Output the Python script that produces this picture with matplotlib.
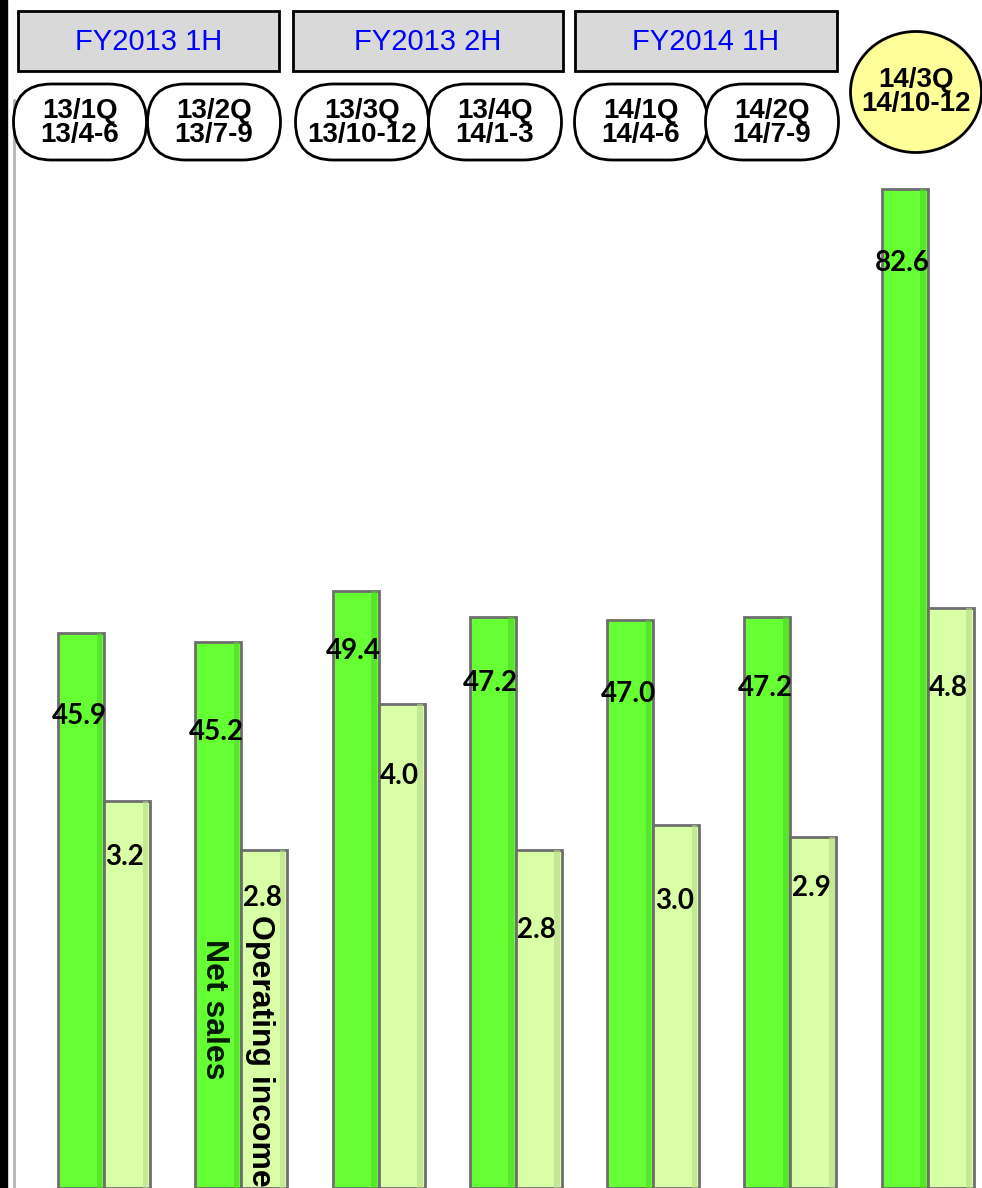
import numpy as np
import matplotlib.pyplot as plt
from matplotlib.patches import Rectangle, FancyBboxPatch, Ellipse

# data
half_labels = ['FY2013 1H', 'FY2013 2H', 'FY2014 1H']
quarter_labels = ['13/1Q\n13/4-6', '13/2Q\n13/7-9', '13/3Q\n13/10-12', '13/4Q\n14/1-3',
                  '14/1Q\n14/4-6', '14/2Q\n14/7-9', '14/3Q\n14/10-12']
net_sales = [45.9, 45.2, 49.4, 47.2, 47.0, 47.2, 82.6]
operating_income = [3.2, 2.8, 4.0, 2.8, 3.0, 2.9, 4.8]

# label drop below bar top (pixels), layout only
net_drop = [83, 90, 60, 66, 74, 71, 74]
oi_drop = [56, 48, 72, 80, 76, 51, 80]

W, H = 982, 1188
fig = plt.figure(figsize=(W / 100, H / 100), dpi=100)

NET_COLOR = '#66ff33'
OI_COLOR = '#d9ffa6'
EDGE = '#6e6e6e'
narrow = ['Liberation Sans Narrow', 'Liberation Sans', 'DejaVu Sans']

ax = fig.add_axes([14 / W, 0, (W - 14) / W, (H - 100) / H])
ax2 = ax.twinx()
x = np.arange(len(net_sales))
w = 0.335

ax.bar(x - w / 2, net_sales, w, color=NET_COLOR, edgecolor=EDGE, linewidth=2, zorder=2)
ax2.bar(x + w / 2, operating_income, w, color=OI_COLOR, edgecolor=EDGE, linewidth=2, zorder=2)
# darker right-hand shading to hint at the bevel
ax.bar(x - w / 2 + w * 0.4, net_sales, w * 0.12, color='#4fd628', linewidth=0, zorder=3, alpha=0.6)
ax2.bar(x + w / 2 + w * 0.4, operating_income, w * 0.12, color='#b6d98a', linewidth=0, zorder=3, alpha=0.6)

ax.set_xlim(-0.655, 6.395)
ax.set_ylim(0, 90)
ax2.set_ylim(0, 9)

for a in (ax, ax2):
    a.set_xticks([])
    a.set_yticks([])
    for s in a.spines.values():
        s.set_visible(False)
ax.spines['left'].set_visible(True)
ax.spines['left'].set_color('#b4b4b4')
ax.spines['left'].set_linewidth(2)
ax.patch.set_alpha(0)

for i, v in enumerate(net_sales):
    ax.annotate(f'{v:.1f}', (x[i] - w / 2, v), xytext=(-2, -net_drop[i]),
                textcoords='offset pixels', ha='center', va='center',
                fontsize=20, fontweight='bold', family='Lato', color='black', zorder=5)
for i, v in enumerate(operating_income):
    ax2.annotate(f'{v:.1f}', (x[i] + w / 2, v), xytext=(-2, -oi_drop[i]),
                 textcoords='offset pixels', ha='center', va='center',
                 fontsize=20, fontweight='bold', family='Lato', color='black', zorder=5)

# series names written inside the second group's bars
ax.text(x[1] - w / 2 - 0.03, 14.8, 'Net sales', rotation=-90, ha='center', va='center',
        fontsize=23, fontweight='bold', family='Liberation Sans', color='#001a00', zorder=5)
ax2.text(x[1] + w / 2 - 0.03, 2.26, 'Operating income', rotation=-90, ha='center', va='top',
         fontsize=23, fontweight='bold', family='Liberation Sans', color='black', zorder=5)

# overlay in pixel coordinates for the header boxes
ov = fig.add_axes([0, 0, 1, 1], facecolor='none')
ov.set_xlim(0, W)
ov.set_ylim(H, 0)
ov.axis('off')

ov.add_patch(Rectangle((0, 0), 7, H, color='black'))

half_boxes = [(18, 261), (293, 270), (575, 262)]
for (x0, bw), lab in zip(half_boxes, half_labels):
    ov.add_patch(Rectangle((x0, 11), bw, 60, facecolor='#d9d9d9', edgecolor='black', linewidth=2))
    ov.text(x0 + bw / 2, 42, lab, ha='center', va='center', fontsize=21,
            family='Liberation Sans', color='#0000ff')

pill_centers = [80, 214, 362, 495, 641, 772]
for cx, lab in zip(pill_centers, quarter_labels[:6]):
    pw, ph = 133, 76
    ov.add_patch(FancyBboxPatch((cx - pw / 2, 84), pw, ph,
                                boxstyle='round,pad=0,rounding_size=38',
                                facecolor='white', edgecolor='black', linewidth=2))
    ov.text(cx, 123, lab, ha='center', va='center', fontsize=20, fontweight='bold',
            family=narrow, linespacing=0.92)

ov.add_patch(Ellipse((916, 92), 131, 121, facecolor='#ffff99', edgecolor='black', linewidth=2))
ov.text(916, 92, quarter_labels[6], ha='center', va='center', fontsize=20, fontweight='bold',
        family=narrow, linespacing=0.92)

fig.savefig('out.png', dpi=100)
